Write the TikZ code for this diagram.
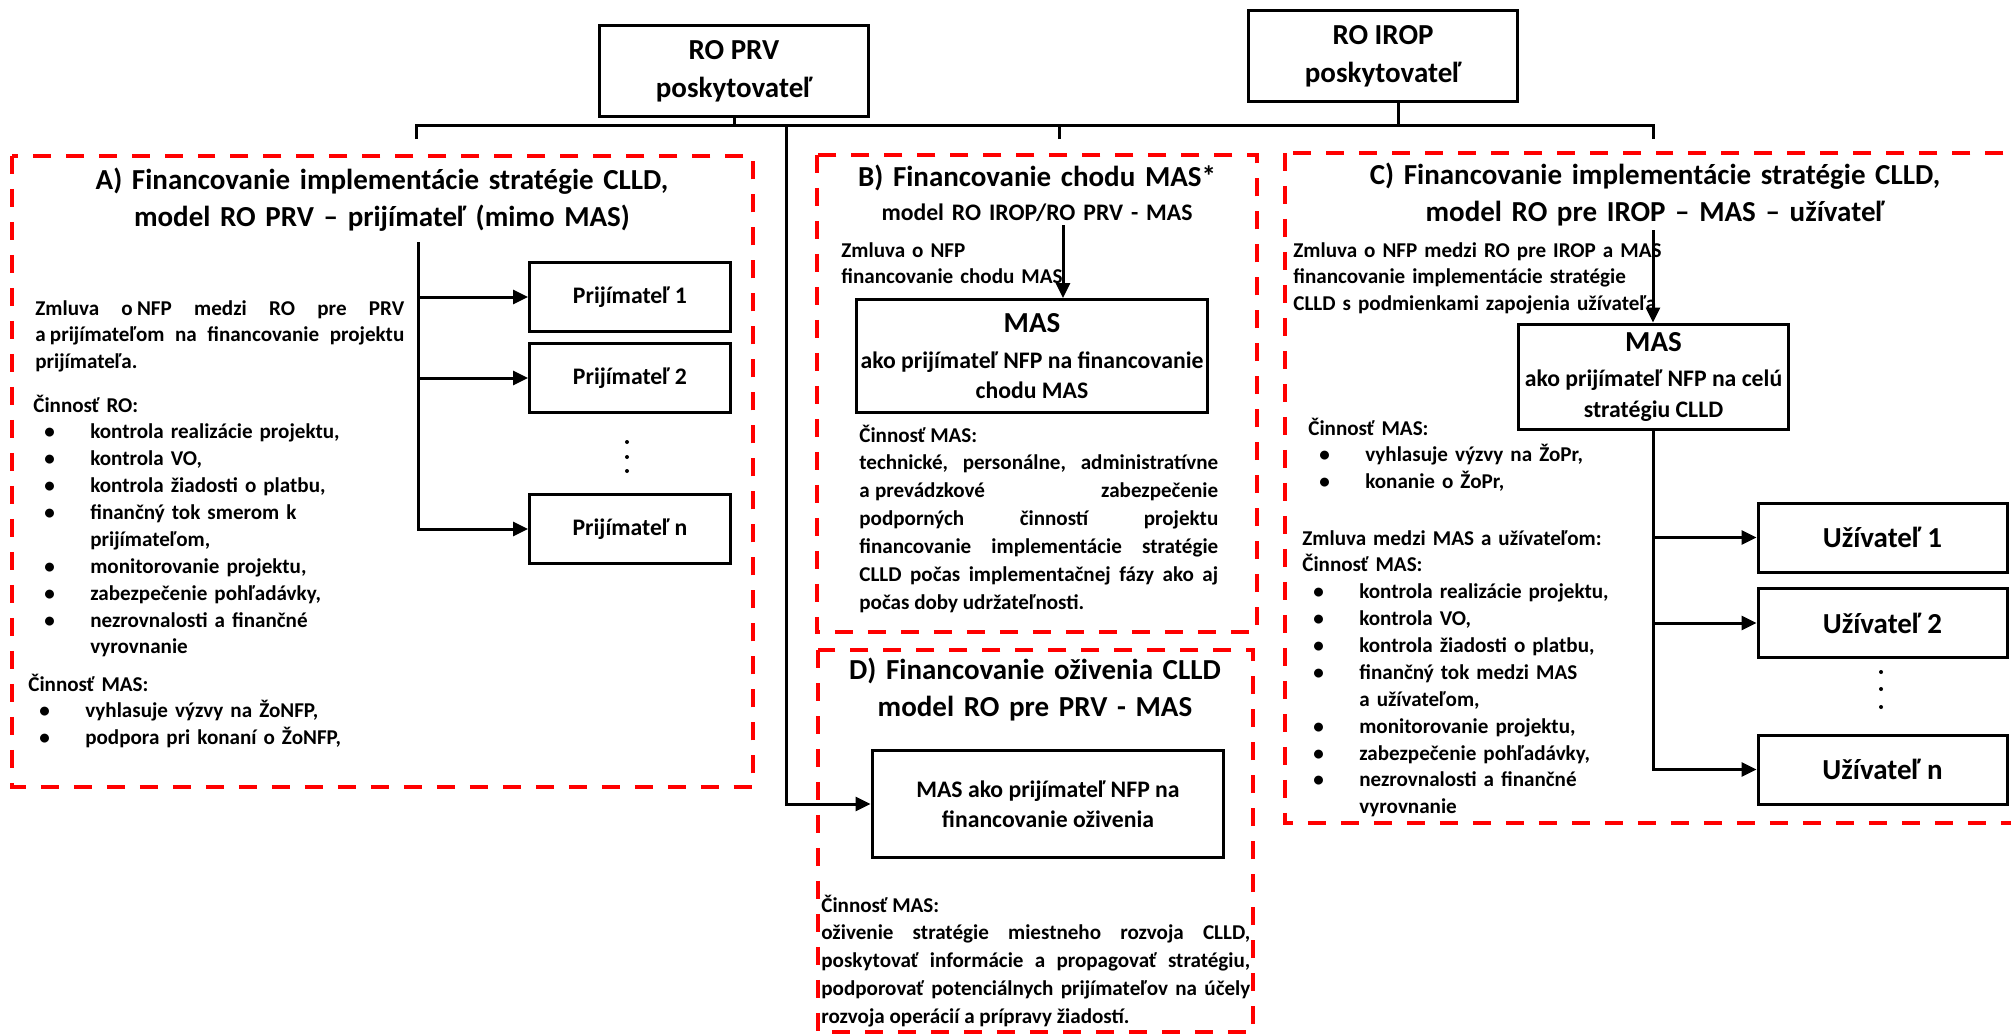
\documentclass[tikz,border=0pt]{standalone}
\usepackage{fontspec}
\setmainfont{Carlito}
\usetikzlibrary{arrows.meta}

\newcommand{\bul}[1]{\par\hangindent=1.14cm\hangafter=1\noindent\hbox to 1.14cm{\hskip 0.22cm\textbullet\hfil}#1}

\tikzset{
    zone/.style = {draw = red, line width = 0.08cm, dash pattern = on 0.36cm off 0.3cm},
    box/.style = {draw, line width = 0.06cm, align = center, inner sep = 0pt},
    conn/.style = {line width = 0.06cm},
    arr/.style = {conn, -{Triangle[length = 0.3cm, width = 0.28cm]}},
    bigtext/.style = {font = \fontsize{16.5}{21.5}\selectfont\bfseries},
    midtext/.style = {font = \fontsize{13.5}{17}\selectfont\bfseries},
    bodytext/.style = {anchor = base west, inner sep = 0pt, font = \fontsize{12}{15.3}\selectfont\bfseries},
    widetext/.style = {anchor = base west, inner sep = 0pt, align = justify, font = \fontsize{12}{15.9}\selectfont\bfseries},
    heading/.style = {anchor = base, inner sep = 0pt, text width = 12cm, align = center},
    prijbox/.style = {box, midtext, minimum width = 4.02cm, minimum height = 1.38cm},
    uzivbox/.style = {box, bigtext, minimum width = 4.98cm, minimum height = 1.38cm}
}

\begin{document}
\begin{tikzpicture}[x = 0.02cm, y = -0.02cm]
    \useasboundingbox (0,0) rectangle (2011,1035);

    % red frames of the four models
    \draw[zone] (12,156) rectangle (753,787);
    \draw[zone] (817,155) rectangle (1257,632);
    \draw[zone] (818,650) rectangle (1253,1032);
    \draw[zone] (1285,153) rectangle (2030,823);

    % providers
    \node[box, bigtext, minimum width = 5.4cm, minimum height = 1.84cm] (roPRV) at (734,71) {RO PRV\\poskytovateľ};
    \node[box, bigtext, minimum width = 5.4cm, minimum height = 1.84cm] (roIROP) at (1383,56) {RO IROP\\poskytovateľ};

    % titles
    \node[heading, bigtext] (titleA) at (382,189) {A) Financovanie implementácie stratégie CLLD,\\model RO PRV – prijímateľ (mimo MAS)};
    \node[heading, bigtext] (titleB) at (1037,186) {B) Financovanie chodu MAS*};
    \node[heading, midtext] (subB) at (1037,220) {model RO IROP/RO PRV - MAS};
    \node[heading, bigtext] (titleC) at (1655,184) {C) Financovanie implementácie stratégie CLLD,\\model RO pre IROP – MAS – užívateľ};
    \node[heading, bigtext] (titleD) at (1035,679) {D) Financovanie oživenia CLLD\\model RO pre PRV - MAS};

    % A) receivers
    \node[prijbox] (prij1) at (630,297) {Prijímateľ 1};
    \node[prijbox] (prij2) at (630,378) {Prijímateľ 2};
    \node[prijbox] (prijn) at (630,529) {Prijímateľ n};
    \foreach \y in {442,457,471} \fill (627,\y) circle (0.04cm);

    \node[bodytext, align = justify, text width = 7.38cm] (zmluvaA) at (35,315) {Zmluva o\hspace{0.2em}NFP medzi RO pre PRV\linebreak a\hspace{0.2em}prijímateľom na financovanie projektu\linebreak prijímateľa.};
    \node[bodytext, text width = 8cm] (cinnostRO) at (33,412) {Činnosť RO:
        \bul{kontrola realizácie projektu,}
        \bul{kontrola VO,}
        \bul{kontrola žiadosti o platbu,}
        \bul{finančný tok smerom k\newline prijímateľom,}
        \bul{monitorovanie projektu,}
        \bul{zabezpečenie pohľadávky,}
        \bul{nezrovnalosti a finančné\newline vyrovnanie}\par};
    \node[bodytext, text width = 8cm] (cinnostMASA) at (28,691) {Činnosť MAS:
        \bul{vyhlasuje výzvy na ŽoNFP,}
        \bul{podpora pri konaní o ŽoNFP,}\par};

    % B) running costs of MAS
    \node[box, midtext, minimum width = 7.04cm, minimum height = 2.26cm] (masB) at (1032,356) {{\fontsize{16.5}{20}\selectfont MAS}\\[4pt]ako prijímateľ NFP na financovanie\\chodu MAS};
    \node[bodytext, text width = 6cm] (zmluvaB) at (841,257) {Zmluva o NFP\newline financovanie chodu MAS};
    \node[widetext, text width = 7.18cm] (cinnostB) at (859,442) {Činnosť MAS:\par technické, personálne, administratívne\linebreak a\hspace{0.25em}prevádzkové zabezpečenie\linebreak podporných činností projektu\linebreak financovanie implementácie stratégie\linebreak CLLD počas implementačnej fázy ako aj\linebreak počas doby udržateľnosti.};

    % D) revival
    \node[box, midtext, minimum width = 7.04cm, minimum height = 2.14cm] (masD) at (1048,804) {MAS ako prijímateľ NFP na\\financovanie oživenia};
    \node[widetext, text width = 8.58cm] (cinnostD) at (821,912) {Činnosť MAS:\par oživenie stratégie miestneho rozvoja CLLD,\linebreak poskytovať informácie a propagovať stratégiu,\linebreak podporovať potenciálnych prijímateľov na účely\linebreak rozvoja operácií a prípravy žiadostí.};

    % C) users
    \node[box, midtext, minimum width = 5.42cm, minimum height = 2.12cm] (masC) at (1653.5,377) {{\fontsize{16.5}{20}\selectfont MAS}\\[3pt]ako prijímateľ NFP na celú\\[1pt]stratégiu CLLD};
    \node[uzivbox] (uziv1) at (1882.5,537.5) {Užívateľ 1};
    \node[uzivbox] (uziv2) at (1882.5,623) {Užívateľ 2};
    \node[uzivbox] (uzivn) at (1882.5,769.5) {Užívateľ n};
    \foreach \y in {672,689,707} \fill (1881,\y) circle (0.04cm);

    \node[bodytext, text width = 8cm] (zmluvaC) at (1293,257) {Zmluva o NFP medzi RO pre IROP a MAS\newline financovanie implementácie stratégie\newline CLLD s podmienkami zapojenia užívateľa};
    \node[bodytext, text width = 8cm] (cinnostC) at (1308,435) {Činnosť MAS:
        \bul{vyhlasuje výzvy na ŽoPr,}
        \bul{konanie o ŽoPr,}\par};
    \node[bodytext, text width = 8cm] (zmluvaUziv) at (1302,545) {Zmluva medzi MAS a užívateľom:\par Činnosť MAS:
        \bul{kontrola realizácie projektu,}
        \bul{kontrola VO,}
        \bul{kontrola žiadosti o platbu,}
        \bul{finančný tok medzi MAS\newline a užívateľom,}
        \bul{monitorovanie projektu,}
        \bul{zabezpečenie pohľadávky,}
        \bul{nezrovnalosti a finančné\newline vyrovnanie}\par};

    % connectors
    \coordinate (tickA) at (416,139);
    \coordinate (tickB) at (1059,139);
    \coordinate (tickC) at (1653,139);
    \coordinate (busD) at (786,125);
    \coordinate (topA) at (418,242);
    \coordinate (topB) at (1063,225);
    \coordinate (topC) at (1653,230);

    \draw[conn] (roPRV) -- (roPRV |- busD);
    \draw[conn] ([xshift = 0.3cm]roIROP.south) -- ([xshift = 0.3cm]roIROP.south |- busD);
    \draw[conn] (tickA) |- (tickC |- busD) -- (tickC);
    \draw[conn] (tickB) -- (tickB |- busD);
    \draw[arr] (busD) |- (masD);

    \draw[arr] (topA) |- (prijn);
    \foreach \n in {prij1,prij2} \draw[arr] (\n -| topA) -- (\n);

    \draw[arr] (topB) -- (topB |- masB.north);

    \draw[arr] (topC) -- (topC |- masC.north);
    \draw[arr] (masC) |- (uzivn);
    \foreach \n in {uziv1,uziv2} \draw[arr] (\n -| masC) -- (\n);
\end{tikzpicture}
\end{document}
